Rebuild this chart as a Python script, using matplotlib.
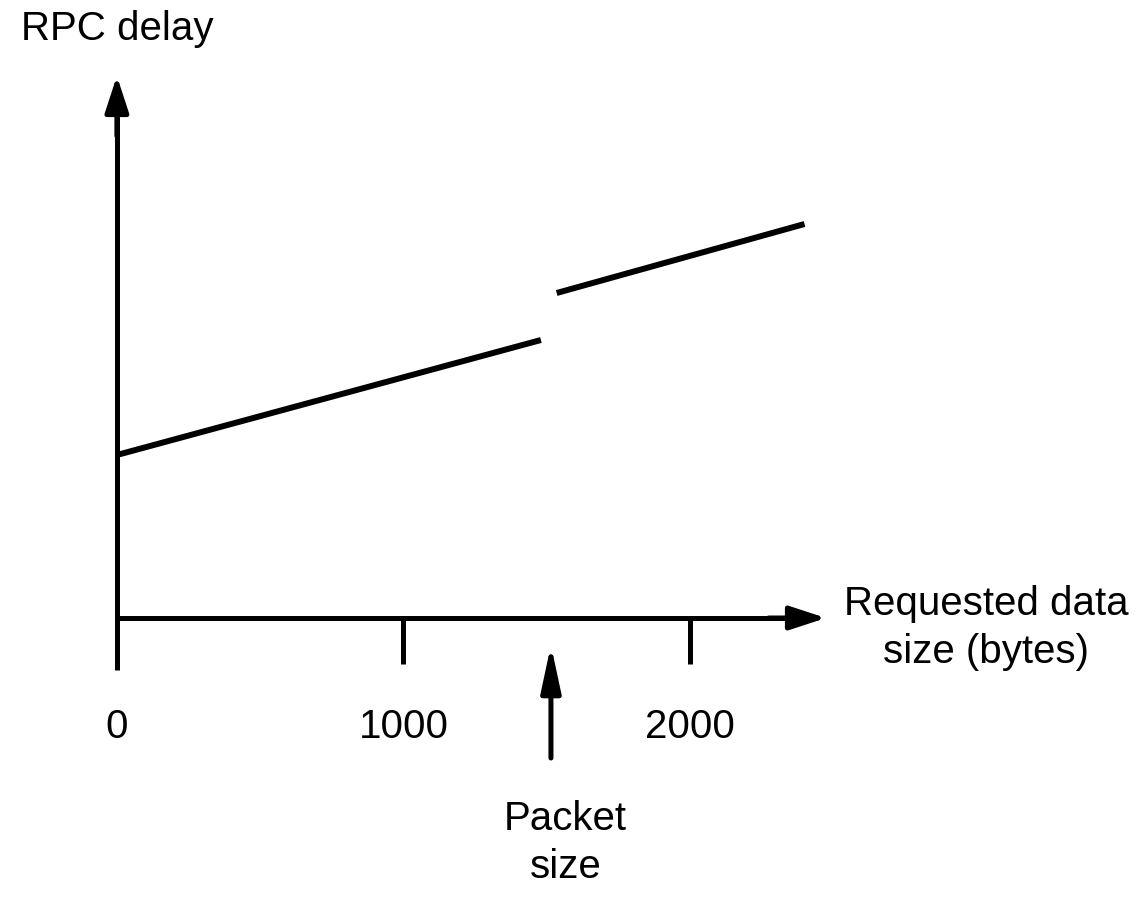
import matplotlib
matplotlib.use('Agg')
import matplotlib.pyplot as plt

plt.rcParams['font.family'] = ['Liberation Sans', 'DejaVu Sans']

# two pieces of the delay curve (requested bytes -> delay, arbitrary units)
sizes_one_packet = [0, 1480]
delay_one_packet = [1.63, 2.78]
sizes_two_packets = [1535, 2400]
delay_two_packets = [3.25, 3.94]

packet_size = 1515
tick_values = [0, 1000, 2000]
tick_labels = ['0', '1000', '2000']

x_end = 2475
y_end = 5.42
y_below = -0.52

fs = 29

fig = plt.figure(figsize=(11.38, 8.97), dpi=100)
ax = fig.add_axes([0, 0, 1, 1])
ax.set_xlim(-408, 3564)
ax.set_ylim(-2.79, 6.18)
ax.patch.set_visible(False)

# axes as lines through the origin
lw = 3.6
for side in ['top', 'right']:
    ax.spines[side].set_visible(False)
ax.spines['bottom'].set_position(('data', 0))
ax.spines['left'].set_position(('data', 0))
ax.spines['bottom'].set_bounds(0, x_end - 80)
ax.spines['left'].set_bounds(y_below, y_end - 0.35)
for side in ['bottom', 'left']:
    ax.spines[side].set_linewidth(lw)
    ax.spines[side].set_capstyle('butt')

ax.set_xticks(tick_values)
ax.set_xticklabels(tick_labels)
ax.set_yticks([])
ax.tick_params(axis='x', direction='out', length=33, width=lw, labelsize=fs, pad=32)

# arrow heads on the axes
head = dict(arrowstyle='-|>,head_length=1.1,head_width=0.36', color='black',
            lw=lw, shrinkA=0, shrinkB=0, mutation_scale=20)
ax.annotate('', xy=(x_end, 0), xytext=(x_end - 200, 0), arrowprops=head)
ax.annotate('', xy=(0, y_end), xytext=(0, y_end - 0.6), arrowprops=head)

# the delay curve
ax.plot(sizes_one_packet, delay_one_packet, color='black', lw=4.3, solid_capstyle='butt')
ax.plot(sizes_two_packets, delay_two_packets, color='black', lw=4.3, solid_capstyle='butt')

# packet size marker
ax.annotate('', xy=(packet_size, -0.27), xytext=(packet_size, -1.4),
            arrowprops=dict(arrowstyle='-|>,head_length=1.4,head_width=0.3', color='black',
                            lw=lw, shrinkA=0, shrinkB=0, mutation_scale=20))
ax.text(packet_size + 50, -2.25, 'Packet\nsize', fontsize=fs, ha='center', va='center',
        multialignment='center', linespacing=1.36)

ax.text(0, 5.78, 'RPC delay', fontsize=fs, ha='center', va='baseline')
ax.text(3035, -0.1, 'Requested data\nsize (bytes)', fontsize=fs, ha='center', va='center',
        multialignment='center', linespacing=1.36)

fig.savefig('out.png', dpi=100)
